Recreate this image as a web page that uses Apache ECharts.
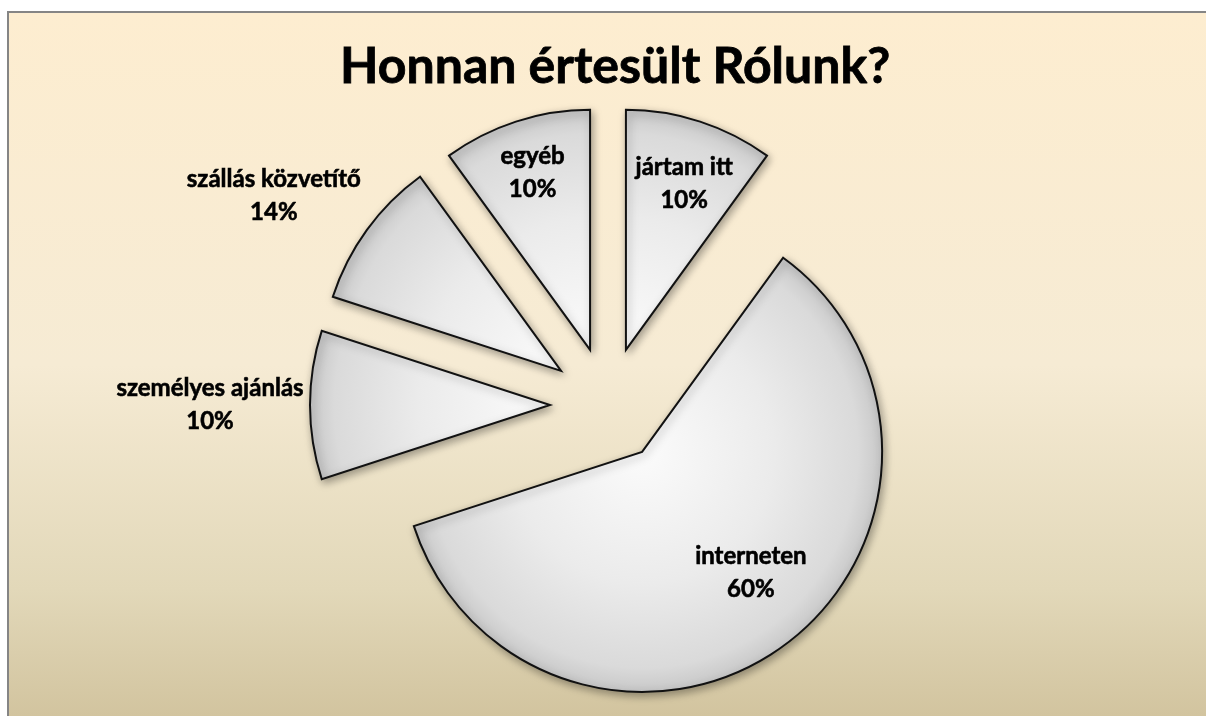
<!DOCTYPE html>
<html>
<head>
<meta charset="utf-8">
<title>Honnan értesült Rólunk?</title>
<script src="https://cdn.jsdelivr.net/npm/echarts@6/dist/echarts.min.js"></script>
<style>
  html, body { margin: 0; padding: 0; background: #fff; }
  #bg {
    position: absolute; left: 7px; top: 11px; right: 0; bottom: 0;
    border-left: 2px solid #858585; border-top: 2px solid #858585;
    background: linear-gradient(#fdedd0 0%, #f6ebd4 50%, #e2d8b9 82%, #d2c49f 100%);
  }
  #main { position: absolute; left: 0; top: 0; width: 1206px; height: 716px; }
</style>
</head>
<body>
<div id="bg"></div>
<div id="main"></div>
<script>
// slices, clockwise from 12 o'clock
const categories = ['jártam itt', 'interneten', 'személyes ajánlás', 'szállás közvetítő', 'egyéb'];
const shares = [10, 60, 10, 10, 10];
// percentages as printed on the original chart
const pctLabels = ['10%', '60%', '10%', '14%', '10%'];

const pieCenter = [608, 405];
const pieRadius = 240;
const explode = 58;
// label distance from the pie centre (px) and a small angular nudge (deg)
const labelDist = [234, 220, 398, 394, 244];
const labelTurn = [1, -4.5, 0, -4, 0];

const total = shares.reduce((a, b) => a + b, 0);
const midAngles = [];
let acc = 0;
shares.forEach(v => { midAngles.push((acc + v / 2) / total * 360); acc += v; });

const sliceFill = {
  type: 'radial', x: pieCenter[0], y: pieCenter[1], r: pieRadius, global: true,
  colorStops: [
    { offset: 0, color: '#fbfbfb' },
    { offset: 0.55, color: '#ebebeb' },
    { offset: 0.9, color: '#dadada' },
    { offset: 1, color: '#c8c8c8' }
  ]
};
const sliceStyle = {
  color: sliceFill,
  borderColor: '#111',
  borderWidth: 2,
  borderJoin: 'miter',
  shadowBlur: 8,
  shadowColor: 'rgba(0,0,0,0.35)',
  shadowOffsetX: 2,
  shadowOffsetY: 3
};

const chart = echarts.init(document.getElementById('main'));
chart.setOption({
  animation: false,
  title: {
    text: 'Honnan értesült Rólunk?',
    left: 340,
    top: 42,
    padding: 0,
    textStyle: {
      fontFamily: 'Lato', fontWeight: 'bold', fontSize: 50, color: '#000',
      textBorderColor: '#000', textBorderWidth: 0.8
    }
  },
  // polar frame in pixels, only used to place the slice labels
  polar: { center: pieCenter, radius: 400 },
  angleAxis: { type: 'value', min: 0, max: 360, startAngle: 90, clockwise: true, show: false },
  radiusAxis: { type: 'value', min: 0, max: 400, show: false },
  series: [{
    type: 'pie',
    center: pieCenter,
    radius: pieRadius,
    startAngle: 90,
    clockwise: true,
    selectedMode: 'multiple',
    selectedOffset: explode,
    itemStyle: sliceStyle,
    select: { itemStyle: sliceStyle },
    emphasis: { disabled: true },
    label: { show: false },
    labelLine: { show: false },
    data: categories.map((name, i) => ({ name, value: shares[i], selected: true }))
  }, {
    type: 'scatter',
    coordinateSystem: 'polar',
    symbolSize: 1,
    itemStyle: { color: 'rgba(0,0,0,0)', opacity: 1 },
    silent: true,
    label: {
      show: true,
      position: 'inside',
      fontFamily: 'Lato',
      fontWeight: 'bold',
      fontSize: 24,
      lineHeight: 33,
      color: '#000',
      opacity: 1,
      textBorderColor: '#000',
      textBorderWidth: 0.6,
      align: 'center',
      verticalAlign: 'middle',
      formatter: p => categories[p.dataIndex] + '\n' + pctLabels[p.dataIndex]
    },
    data: categories.map((name, i) => [labelDist[i], midAngles[i] + labelTurn[i]])
  }]
});
</script>
</body>
</html>
